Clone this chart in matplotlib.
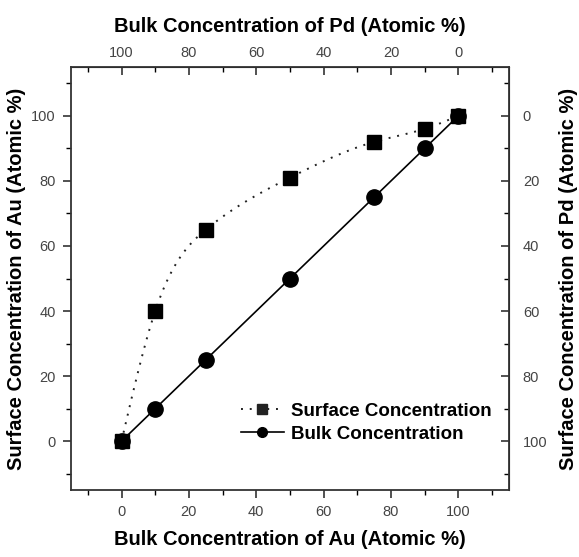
import matplotlib
matplotlib.use("Agg")
import matplotlib.pyplot as plt
import numpy as np

plt.rcParams['font.family'] = ['Liberation Sans', 'DejaVu Sans']

# data
bulk_au = [0, 10, 25, 50, 75, 90, 100]
surface_au = [0, 40, 65, 81, 92, 96, 100]
bulk_line = [0, 10, 25, 50, 75, 90, 100]
ticks = [0, 20, 40, 60, 80, 100]


def natural_spline(x, y, xs):
    # plain natural cubic spline, only used to draw the smooth dotted curve
    x = np.asarray(x, float)
    y = np.asarray(y, float)
    n = len(x)
    h = np.diff(x)
    A = np.zeros((n, n))
    b = np.zeros(n)
    A[0, 0] = A[-1, -1] = 1
    for i in range(1, n - 1):
        A[i, i - 1] = h[i - 1]
        A[i, i] = 2 * (h[i - 1] + h[i])
        A[i, i + 1] = h[i]
        b[i] = 3 * ((y[i + 1] - y[i]) / h[i] - (y[i] - y[i - 1]) / h[i - 1])
    c = np.linalg.solve(A, b)
    out = np.empty_like(xs)
    for j, xv in enumerate(xs):
        i = min(np.searchsorted(x, xv, side='right') - 1, n - 2)
        i = max(i, 0)
        dx = xv - x[i]
        bi = (y[i + 1] - y[i]) / h[i] - h[i] * (2 * c[i] + c[i + 1]) / 3
        di = (c[i + 1] - c[i]) / (3 * h[i])
        out[j] = y[i] + bi * dx + c[i] * dx ** 2 + di * dx ** 3
    return out


fig = plt.figure(figsize=(5.79, 5.57), dpi=100)
ax = fig.add_axes([0.1226, 0.1203, 0.7564, 0.7594])

xs = np.linspace(0, 100, 300)
ax.plot(xs, natural_spline(bulk_au, surface_au, xs), color='#222222', lw=1.4,
        ls=(0, (1, 3.5)))
ax.plot(bulk_au, surface_au, ls='none', marker='s', ms=10.5, color='black')
ax.plot(bulk_au, bulk_line, color='black', lw=1.2, marker='o', ms=11)

# legend handles
h1, = ax.plot([], [], color='#222222', lw=1.4, ls=(0, (1, 3.5)), marker='s', ms=7)
h2, = ax.plot([], [], color='black', lw=1.2, marker='o', ms=7)
ax.legend([h1, h2], ['Surface Concentration', 'Bulk Concentration'],
          loc='lower right', bbox_to_anchor=(1.0, 0.072), frameon=False,
          prop={'weight': 'bold', 'size': 13.5}, handlelength=2.3,
          handletextpad=0.4, labelspacing=0.3)

ax.set_xlim(-15, 115)
ax.set_ylim(-15, 115)
ax.set_xticks(ticks)
ax.set_yticks(ticks)
ax.set_xticks(np.arange(-10, 115, 10), minor=True)
ax.set_yticks(np.arange(-10, 115, 10), minor=True)
ax.tick_params(direction='out', length=6, width=1.2, labelsize=10.5,
               colors='#333333', labelcolor='#444444', pad=5)
ax.tick_params(which='minor', direction='out', length=3.5, width=1)
for s in ax.spines.values():
    s.set_linewidth(1.3)
    s.set_color('#333333')

ax.set_xlabel('Bulk Concentration of Au (Atomic %)', fontsize=14.5,
              fontweight='bold', labelpad=8)
ax.set_ylabel('Surface Concentration of Au (Atomic %)', fontsize=14.5,
              fontweight='bold', labelpad=4)

flip = (lambda v: 100 - v, lambda v: 100 - v)
top = ax.secondary_xaxis('top', functions=flip)
top.set_xticks(ticks)
top.set_xticks(np.arange(-10, 115, 10), minor=True)
top.tick_params(direction='in', length=6, width=1.2, labelsize=10.5,
                colors='#333333', labelcolor='#444444', pad=5)
top.tick_params(which='minor', direction='in', length=3.5, width=1)
top.set_xlabel('Bulk Concentration of Pd (Atomic %)', fontsize=14.5,
               fontweight='bold', labelpad=10)

right = ax.secondary_yaxis('right', functions=flip)
right.set_yticks(ticks)
right.set_yticks(np.arange(-10, 115, 10), minor=True)
right.tick_params(direction='in', length=6, width=1.2, labelsize=10.5,
                  colors='#333333', labelcolor='#444444', pad=10)
right.tick_params(which='minor', direction='in', length=3.5, width=1)
right.set_ylabel('Surface Concentration of Pd (Atomic %)', fontsize=14.5,
                 fontweight='bold', labelpad=8)

fig.savefig('out.png', dpi=100)
